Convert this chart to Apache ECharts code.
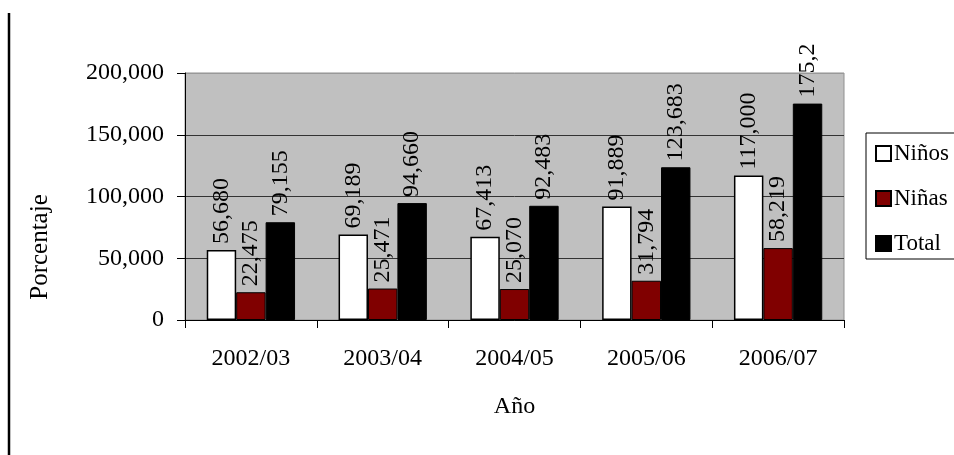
<!DOCTYPE html>
<html>
<head>
<meta charset="utf-8">
<script src="https://cdn.jsdelivr.net/npm/echarts@6/dist/echarts.min.js"></script>
<style>
html,body{margin:0;padding:0;background:#fff;}
#chart{width:954px;height:455px;}
</style>
</head>
<body>
<div id="chart"></div>
<script>
const categories = ['2002/03', '2003/04', '2004/05', '2005/06', '2006/07'];
const ninos = [56680, 69189, 67413, 91889, 117000];
const ninas = [22475, 25471, 25070, 31794, 58219];
const total = [79155, 94660, 92483, 123683, 175219];
const totalLabels = ['79,155', '94,660', '92,483', '123,683', '175,2'];
const yTicks = [0, 50000, 100000, 150000, 200000];

const FONT = '"Liberation Serif", "Times New Roman", serif';
const fmt = v => v.toLocaleString('en-US');

const labelBase = {
  show: true,
  position: 'top',
  rotate: 90,
  align: 'left',
  verticalAlign: 'middle',
  distance: 6,
  fontFamily: FONT,
  fontSize: 24,
  color: '#000'
};

const chart = echarts.init(document.getElementById('chart'));
chart.setOption({
  animation: false,
  backgroundColor: '#fff',
  textStyle: { fontFamily: FONT },
  grid: {
    left: 185, right: 110, top: 73, bottom: 135,
    show: true, backgroundColor: '#C0C0C0', borderColor: '#909090', borderWidth: 1
  },
  legend: {
    orient: 'vertical',
    left: 866, top: 133,
    padding: [9, 20, 4, 9],
    itemGap: 22,
    itemWidth: 15, itemHeight: 15,
    icon: 'rect',
    borderColor: '#000', borderWidth: 1,
    textStyle: { fontFamily: FONT, fontSize: 23, color: '#000', padding: [0, 0, 0, -2] },
    data: ['Niños', 'Niñas', 'Total']
  },
  xAxis: {
    type: 'category',
    data: categories,
    name: 'Año',
    nameLocation: 'middle',
    nameGap: 75,
    nameTextStyle: { fontFamily: FONT, fontSize: 24, color: '#000', verticalAlign: 'top' },
    axisLine: { lineStyle: { color: '#000', width: 1 } },
    axisTick: { show: true, length: 8, alignWithLabel: false, lineStyle: { color: '#000' } },
    axisLabel: { fontFamily: FONT, fontSize: 24, color: '#000', margin: 27 }
  },
  yAxis: {
    type: 'value',
    min: yTicks[0],
    max: yTicks[yTicks.length - 1],
    interval: yTicks[1] - yTicks[0],
    axisLine: { show: true, lineStyle: { color: '#000', width: 1 } },
    axisTick: { show: true, length: 8, lineStyle: { color: '#000' } },
    axisLabel: { fontFamily: FONT, fontSize: 24, color: '#000', margin: 21, formatter: v => fmt(v) },
    splitLine: { show: true, lineStyle: { color: ['#333', '#333', '#333', '#333', '#999'], width: 1 } }
  },
  graphic: [
    { type: 'line', shape: { x1: 9, y1: 13, x2: 9, y2: 455 }, style: { stroke: '#000', lineWidth: 2.5 } },
    { type: 'text', x: 40, y: 247, rotation: Math.PI / 2,
      style: { text: 'Porcentaje', fontFamily: FONT, fontSize: 25, fill: '#000', textAlign: 'center', textVerticalAlign: 'middle' } }
  ],
  series: [
    {
      name: 'Niños', type: 'bar', data: ninos,
      barGap: 0, barCategoryGap: '33%',
      itemStyle: { color: '#FFFFFF', borderColor: '#000', borderWidth: 1.5 },
      label: Object.assign({}, labelBase, { formatter: p => fmt(p.value) })
    },
    {
      name: 'Niñas', type: 'bar', data: ninas,
      barGap: 0, barCategoryGap: '33%',
      itemStyle: { color: '#800000', borderColor: '#000', borderWidth: 1 },
      label: Object.assign({}, labelBase, { formatter: p => fmt(p.value) })
    },
    {
      name: 'Total', type: 'bar', data: total,
      barGap: 0, barCategoryGap: '33%',
      itemStyle: { color: '#000000', borderColor: '#000', borderWidth: 1 },
      label: Object.assign({}, labelBase, { formatter: p => totalLabels[p.dataIndex] })
    }
  ]
});
</script>
</body>
</html>
